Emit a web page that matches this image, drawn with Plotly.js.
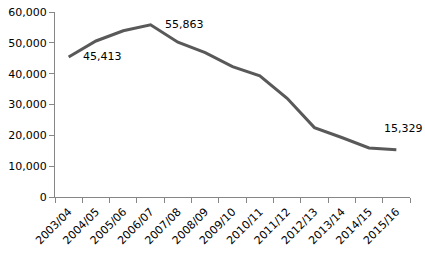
<!DOCTYPE html>
<html>
<head>
<meta charset="utf-8">
<script src="https://cdn.plot.ly/plotly-3.0.1.min.js"></script>
<style>html,body{margin:0;padding:0;background:#fff;}#chart{width:425px;height:254px;}</style>
</head>
<body>
<div id="chart"></div>
<script>
const categories = ["2003/04","2004/05","2005/06","2006/07","2007/08","2008/09","2009/10","2010/11","2011/12","2012/13","2013/14","2014/15","2015/16"];
const values = [45413, 50600, 53900, 55863, 50200, 46800, 42300, 39300, 32000, 22500, 19300, 15900, 15329];
const labelIdx = [0, 3, 12];
const yTicks = [0, 10000, 20000, 30000, 40000, 50000, 60000];

const fontFam = "DejaVu Sans, Verdana, sans-serif";
const shifts = {0: [12, 0, 'left', 'middle'], 3: [12, 0, 'left', 'middle'], 12: [7, 21, 'center', 'middle']};

const annotations = labelIdx.map(i => ({
  x: categories[i], y: values[i], xref: 'x', yref: 'y',
  text: values[i].toLocaleString('en-US'),
  showarrow: false,
  xshift: shifts[i][0], yshift: shifts[i][1],
  xanchor: shifts[i][2], yanchor: shifts[i][3],
  font: {family: fontFam, size: 11, color: '#000'}
}));

Plotly.newPlot('chart', [{
  x: categories, y: values, type: 'scatter', mode: 'lines',
  line: {color: '#595959', width: 3},
  hoverinfo: 'none'
}], {
  width: 425, height: 254,
  margin: {l: 55, r: 15, t: 12, b: 57, pad: 0},
  paper_bgcolor: '#fff', plot_bgcolor: '#fff',
  showlegend: false,
  font: {family: fontFam, size: 11, color: '#000'},
  xaxis: {
    type: 'category', range: [-0.5, 12.5],
    tickangle: -45, tickson: 'boundaries',
    ticks: 'outside', ticklen: 5, tickcolor: '#868686',
    ticklabelstandoff: 3,
    showline: true, linecolor: '#868686', linewidth: 1,
    showgrid: false, zeroline: false,
    tickfont: {family: fontFam, size: 11, color: '#000'}
  },
  yaxis: {
    range: [0, 60000], tickvals: yTicks,
    ticktext: yTicks.map(v => v.toLocaleString('en-US')),
    ticks: 'outside', ticklen: 5, tickcolor: '#868686',
    showline: true, linecolor: '#868686', linewidth: 1,
    showgrid: false, zeroline: false,
    tickfont: {family: fontFam, size: 11, color: '#000'}
  },
  annotations: annotations
}, {staticPlot: true, displayModeBar: false});
</script>
</body>
</html>
